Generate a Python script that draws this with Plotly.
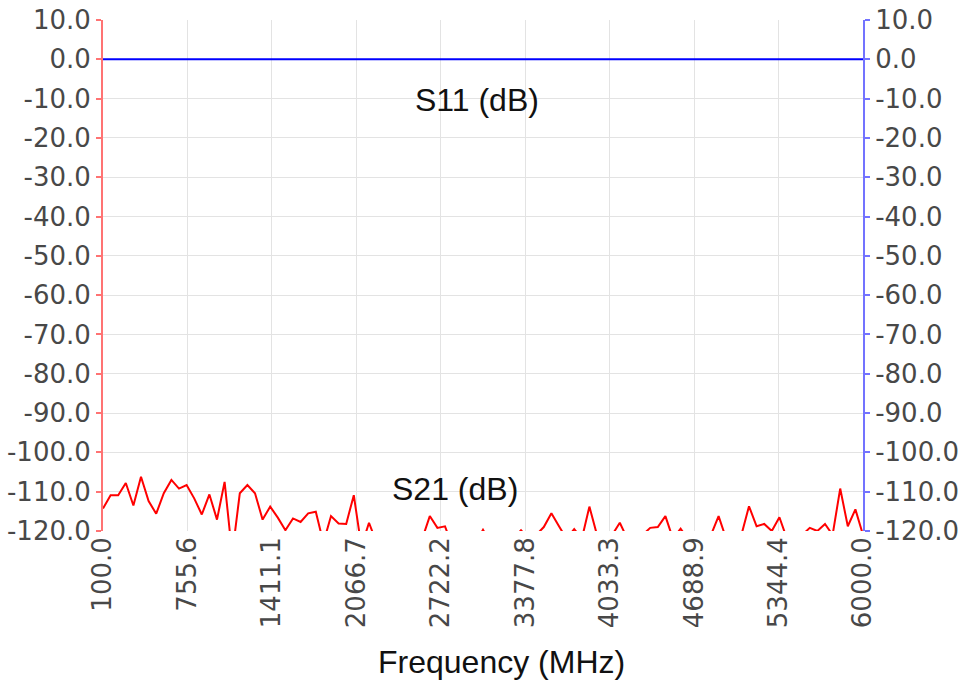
import plotly.graph_objects as go

# ---- data ----
freq_start = 100.0
freq_stop = 6000.0
n_points = 101
freqs = [freq_start + i * (freq_stop - freq_start) / (n_points - 1) for i in range(n_points)]

s11_db = [0.0] * n_points

s21_db = [
    -114.3, -110.9, -110.9, -107.8, -113.5, -106.2, -112.4, -115.6, -110.4, -107.0,
    -109.2, -108.3, -111.7, -115.8, -110.7, -117.1, -107.5, -126.0, -110.4, -108.3,
    -110.4, -117.1, -113.8, -116.6, -119.8, -116.8, -117.7, -115.5, -115.1, -123.0,
    -116.2, -118.1, -118.2, -110.9, -124.0, -117.9, -123.0, -125.0, -127.0, -124.0,
    -126.0, -123.0, -122.0, -116.2, -119.2, -118.8, -124.0, -126.0, -125.0, -123.0,
    -119.7, -123.0, -126.0, -124.0, -122.0, -119.8, -122.0, -121.0, -119.0, -115.5,
    -118.8, -122.0, -119.5, -122.0, -113.8, -121.0, -123.0, -121.0, -117.9, -122.0,
    -124.0, -121.0, -119.2, -119.0, -116.2, -122.0, -119.4, -122.0, -125.0, -124.0,
    -121.0, -116.2, -122.0, -125.0, -121.0, -113.7, -118.8, -118.2, -120.0, -116.5,
    -122.0, -125.0, -121.0, -119.2, -120.0, -118.2, -121.0, -109.2, -118.8, -114.5,
    -121.0,
]

x_tick_vals = [freq_start + k * (freq_stop - freq_start) / 9 for k in range(10)]
x_tick_text = [f"{v:.1f}" for v in x_tick_vals]
y_tick_vals = list(range(10, -121, -10))
y_tick_text = [f"{v:.1f}" for v in y_tick_vals]

# ---- figure ----
fig = go.Figure()
fig.add_trace(go.Scatter(x=freqs, y=s21_db, mode="lines", name="S21 (dB)",
                         line=dict(color="#ff0000", width=2), yaxis="y"))
fig.add_trace(go.Scatter(x=freqs, y=s11_db, mode="lines", name="S11 (dB)",
                         line=dict(color="#0000ff", width=2), yaxis="y2"))

tick_font = dict(family="DejaVu Sans", size=26, color="#484848")
grid_col = "#e3e3e3"
label_font = dict(family="Liberation Sans", size=32, color="#111111")

fig.update_layout(
    width=960, height=682,
    margin=dict(l=103, r=97, t=20, b=151),
    paper_bgcolor="white", plot_bgcolor="white",
    showlegend=False,
    xaxis=dict(
        range=[freq_start, freq_stop], automargin=False,
        tickvals=x_tick_vals, ticktext=x_tick_text,
        tickangle=-90, tickfont=tick_font,
        showgrid=True, gridcolor=grid_col, gridwidth=1,
        zeroline=False, showline=False, ticks="",
    ),
    yaxis=dict(
        range=[-120, 10], automargin=False,
        tickvals=y_tick_vals, ticktext=y_tick_text,
        tickfont=tick_font,
        showgrid=True, gridcolor=grid_col, gridwidth=1,
        zeroline=False,
        showline=True, linecolor="rgba(255,0,0,0.55)", linewidth=2,
        ticks="outside", ticklen=5, tickcolor="rgba(255,0,0,0.55)", tickwidth=2,
    ),
    yaxis2=dict(
        range=[-120, 10], overlaying="y", side="right", automargin=False,
        tickvals=y_tick_vals, ticktext=y_tick_text,
        tickfont=tick_font,
        showgrid=False, zeroline=False,
        showline=True, linecolor="rgba(0,0,255,0.55)", linewidth=2,
        ticks="outside", ticklen=5, tickcolor="rgba(0,0,255,0.55)", tickwidth=2,
    ),
    annotations=[
        dict(text="Frequency (MHz)", xref="paper", yref="paper", x=0.5243, y=-0.2564,
             xanchor="center", yanchor="middle", showarrow=False, font=label_font),
        dict(text="S11 (dB)", xref="paper", yref="paper", x=0.492, y=0.8434,
             xanchor="center", yanchor="middle", showarrow=False, font=label_font),
        dict(text="S21 (dB)", xref="paper", yref="paper", x=0.4625, y=0.0822,
             xanchor="center", yanchor="middle", showarrow=False, font=label_font),
    ],
)

fig.write_html("out.html", config={"displayModeBar": False},
               post_script="document.body.style.margin='0';")
